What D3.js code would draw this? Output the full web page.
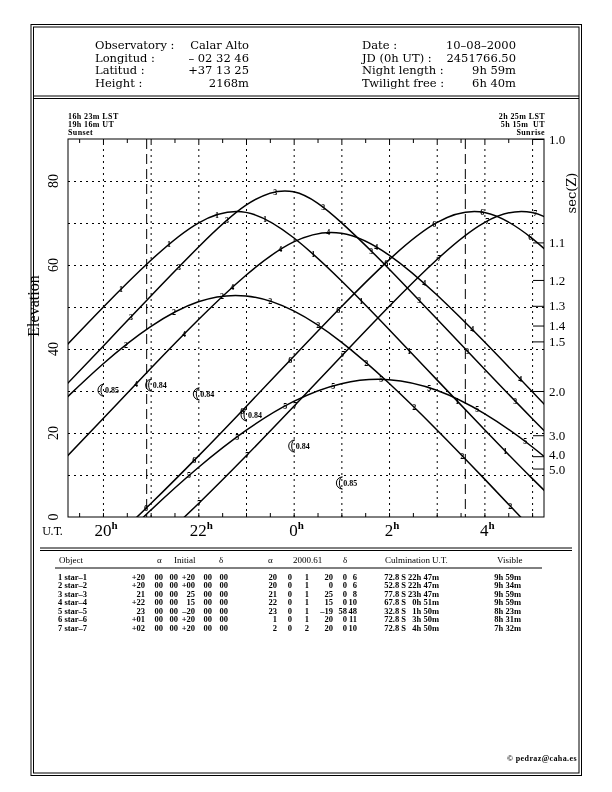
<!DOCTYPE html>
<html>
<head>
<meta charset="utf-8">
<script src="https://cdn.jsdelivr.net/npm/d3@7"></script>
<style>
  body { margin: 0; background: #fff; }
  svg { display: block; background: #fff; will-change: transform; }
  text { fill: #000; }
  .hdr { font-family: "DejaVu Serif"; font-size: 11.5px; }
  .small { font-family: "Liberation Serif"; font-weight: bold; font-size: 8px; letter-spacing: 0.4px; }
  .num { font-family: "Liberation Serif"; font-size: 14px; }
  .tbl { font-family: "Liberation Serif"; font-weight: bold; font-size: 8.5px; }
  .tblh { font-family: "Liberation Serif"; font-size: 9px; }
</style>
</head>
<body>
<div id="chart"></div>
<script>
// header block
var obsLabels = ["Observatory :", "Longitud :", "Latitud :", "Height :"];
var obsValues = ["Calar Alto", "– 02 32 46", "+37 13 25", "2168m"];
var nightLabels = ["Date :", "JD (0h UT) :", "Night length :", "Twilight free :"];
var nightValues = ["10–08–2000", "2451766.50", "9h 59m", "6h 40m"];

var sunsetText = ["16h 23m LST", "19h 16m UT", "Sunset"];
var sunriseText = ["2h 25m LST", "5h 15m  UT", "Sunrise"];

// time axis (UT hours, after midnight as 24+)
var utRange = [19 + 16/60, 29 + 15/60];
var twilight = [20 + 55/60, 27 + 36/60];
var hourLabels = [20, 22, 24, 26, 28];
var hourText = ["20", "22", "0", "2", "4"];
var elevLabels = [0, 20, 40, 60, 80];
var secValues = [1.0, 1.1, 1.2, 1.3, 1.4, 1.5, 2.0, 3.0, 4.0, 5.0];
var secText = ["1.0", "1.1", "1.2", "1.3", "1.4", "1.5", "2.0", "3.0", "4.0", "5.0"];

// elevations of each object, one value per UT hour
var hoursUT = [19, 20, 21, 22, 23, 24, 25, 26, 27, 28, 29, 30];
var star1 = [38.05, 49.89, 61.06, 69.99, 72.53, 66.48, 56.24, 44.64, 32.71, 20.81, 9.19, -1.86];
var star2 = [25.83, 36.42, 45.32, 51.24, 52.64, 49.07, 41.64, 31.84, 20.79, 9.08, -2.88, -14.76];
var star3 = [28.74, 40.62, 52.57, 64.22, 74.24, 77.42, 70.10, 59.06, 47.18, 35.23, 23.46, 12.10];
var star4 = [11.50, 23.40, 35.35, 46.96, 57.56, 65.51, 67.57, 62.37, 52.91, 41.71, 29.89, 17.93];
var star5 = [-21.11, -9.49, 1.59, 11.78, 20.62, 27.52, 31.74, 32.68, 30.17, 24.61, 16.72, 7.19];
var star6 = [-16.97, -7.48, 3.14, 14.49, 26.27, 38.23, 50.06, 61.22, 70.07, 72.50, 66.35, 56.06];
var star7 = [-24.79, -16.95, -7.45, 3.17, 14.52, 26.30, 38.26, 50.10, 61.24, 70.10, 72.49, 66.30];
var stars = [star1, star2, star3, star4, star5, star6, star7];

// moon
var moonUT = [20, 21, 22, 23, 24, 25];
var moonElev = [30.2, 31.4, 29.3, 24.3, 16.9, 8.1];
var moonFrac = ["0.85", "0.84", "0.84", "0.84", "0.84", "0.85"];

// table
var objNames = ["1 star–1", "2 star–2", "3 star–3", "4 star–4", "5 star–5", "6 star–6", "7 star–7"];
var raInit = ["+20 00 00", "+20 00 00", "21 00 00", "+22 00 00", "23 00 00", "+01 00 00", "+02 00 00"];
var decInit = ["+20 00 00", "+00 00 00", "25 00 00", "15 00 00", "–20 00 00", "+20 00 00", "+20 00 00"];
var raNow = ["20 0 1", "20 0 1", "21 0 1", "22 0 1", "23 0 1", "1 0 1", "2 0 2"];
var decNow = ["20 0 6", "0 0 6", "25 0 8", "15 0 10", "–19 58 48", "20 0 11", "20 0 10"];
var culmAlt = ["72.8 S", "52.8 S", "77.8 S", "67.8 S", "32.8 S", "72.8 S", "72.8 S"];
var culmUT = ["22h 47m", "22h 47m", "23h 47m", "0h 51m", "1h 50m", "3h 50m", "4h 50m"];
var visible = ["9h 59m", "9h 34m", "9h 59m", "9h 59m", "8h 23m", "8h 31m", "7h 32m"];

var svg = d3.select("#chart").append("svg")
    .attr("width", 612)
    .attr("height", 792);

// page frame
svg.append("rect").attr("x", 31).attr("y", 24.5).attr("width", 550.5).attr("height", 751)
    .attr("fill", "none").attr("stroke", "#000");
svg.append("rect").attr("x", 33.5).attr("y", 27).attr("width", 545.5).attr("height", 746)
    .attr("fill", "none").attr("stroke", "#000");
[96, 98.5].forEach(function(yy) {
  svg.append("line").attr("x1", 33.5).attr("x2", 579).attr("y1", yy).attr("y2", yy).attr("stroke", "#000");
});

var rowY = [49, 61.5, 74, 86.5];
obsLabels.forEach(function(t, i) {
  svg.append("text").attr("class", "hdr").attr("x", 95).attr("y", rowY[i]).text(t);
  svg.append("text").attr("class", "hdr").attr("x", 249).attr("y", rowY[i]).attr("text-anchor", "end").text(obsValues[i]);
  svg.append("text").attr("class", "hdr").attr("x", 362).attr("y", rowY[i]).text(nightLabels[i]);
  svg.append("text").attr("class", "hdr").attr("x", 516).attr("y", rowY[i]).attr("text-anchor", "end").text(nightValues[i]);
});

// plot
var plot = {left: 68, top: 139, right: 544, bottom: 517};
var x = d3.scaleLinear().domain(utRange).range([plot.left, plot.right]);
var y = d3.scaleLinear().domain([0, 90]).range([plot.bottom, plot.top]);

svg.append("clipPath").attr("id", "clip")
  .append("rect").attr("x", plot.left).attr("y", plot.top)
  .attr("width", plot.right - plot.left).attr("height", plot.bottom - plot.top);

// dotted grid
var gx = svg.append("g").attr("transform", "translate(0," + plot.bottom + ")")
    .call(d3.axisBottom(x).tickValues(d3.range(20, 30)).tickSize(-(plot.bottom - plot.top)).tickFormat(""));
var gy = svg.append("g").attr("transform", "translate(" + plot.left + ",0)")
    .call(d3.axisLeft(y).tickValues(d3.range(10, 90, 10)).tickSize(-(plot.right - plot.left)).tickFormat(""));
[gx, gy].forEach(function(g) {
  g.select(".domain").remove();
  g.selectAll("line").attr("stroke", "#000").attr("stroke-dasharray", "2,4");
});

// half hour ticks top and bottom
var halfHours = d3.range(19.5, 29.25, 0.5);
var tb = svg.append("g").attr("transform", "translate(0," + plot.bottom + ")")
    .call(d3.axisBottom(x).tickValues(halfHours).tickSize(-4).tickFormat(""));
var tt = svg.append("g").attr("transform", "translate(0," + plot.top + ")")
    .call(d3.axisTop(x).tickValues(halfHours).tickSize(-4).tickFormat(""));
[tb, tt].forEach(function(g) {
  g.select(".domain").remove();
  g.selectAll("line").attr("stroke", "#000");
});

// twilight limits
twilight.forEach(function(t) {
  svg.append("line").attr("x1", x(t)).attr("x2", x(t)).attr("y1", plot.top).attr("y2", plot.bottom)
    .attr("stroke", "#000").attr("stroke-dasharray", "10,5");
});

// sec(Z) axis
function secToElev(s) { return 90 - Math.acos(1 / s) * 180 / Math.PI; }
var gs = svg.append("g").attr("transform", "translate(" + plot.right + ",0)")
    .call(d3.axisRight(y).tickValues(secValues.map(secToElev)).tickSize(-11).tickPadding(5)
      .tickFormat(function(d, i) { return secText[i]; }));
gs.select(".domain").remove();
gs.selectAll("line").attr("stroke", "#000");
gs.selectAll("text").attr("font-family", "Liberation Serif").attr("font-size", 13).attr("fill", "#000")
  .attr("dy", function(d, i) { return secText[i] === "4.0" ? "0.2em" : secText[i] === "5.0" ? "0.4em" : "0.32em"; });

svg.append("rect").attr("x", plot.left).attr("y", plot.top)
    .attr("width", plot.right - plot.left).attr("height", plot.bottom - plot.top)
    .attr("fill", "none").attr("stroke", "#000");

// left labels
elevLabels.forEach(function(v) {
  svg.append("text").attr("class", "num").attr("text-anchor", "middle")
    .attr("transform", "translate(58," + y(v) + ") rotate(-90)").text(v);
});
svg.append("text").attr("text-anchor", "middle").attr("font-family", "Liberation Serif").attr("font-size", 16)
    .attr("transform", "translate(39,306) rotate(-90)").text("Elevation");
svg.append("text").attr("text-anchor", "middle").attr("font-family", "DejaVu Serif").attr("font-size", 13)
    .attr("transform", "translate(576,193) rotate(-90)").text("sec(Z)");

// bottom labels
svg.append("text").attr("font-family", "DejaVu Serif").attr("font-size", 11).attr("x", 42).attr("y", 535).text("U.T.");
hourLabels.forEach(function(h, i) {
  var t = svg.append("text").attr("font-family", "Liberation Serif").attr("font-size", 17)
    .attr("x", x(h) + 3).attr("y", 536).attr("text-anchor", "middle");
  t.append("tspan").text(hourText[i]);
  t.append("tspan").attr("font-size", 11).attr("font-weight", "bold").attr("dy", -7).text("h");
});

// sunset / sunrise notes
sunsetText.forEach(function(s, i) {
  svg.append("text").attr("class", "small").attr("x", 68).attr("y", 119 + 8 * i).attr("xml:space", "preserve").text(s);
});
sunriseText.forEach(function(s, i) {
  svg.append("text").attr("class", "small").attr("x", 545).attr("y", 119 + 8 * i)
    .attr("text-anchor", "end").attr("xml:space", "preserve").text(s);
});

// object tracks
var line = d3.line()
    .x(function(d) { return x(d[0]); })
    .y(function(d) { return y(d[1]); })
    .curve(d3.curveNatural);

var tracks = svg.append("g").attr("clip-path", "url(#clip)");

function yOnPath(node, len, px) {
  var lo = 0, hi = len, p;
  for (var k = 0; k < 30; k++) {
    var mid = (lo + hi) / 2;
    p = node.getPointAtLength(mid);
    if (p.x < px) lo = mid; else hi = mid;
  }
  return p.y;
}

var labelT0 = 20.38, labelShift = 0.105, labelStep = 1.007;
stars.forEach(function(s, i) {
  var p = tracks.append("path")
      .datum(d3.zip(hoursUT, s))
      .attr("d", line)
      .attr("fill", "none")
      .attr("stroke", "#000")
      .attr("stroke-width", 1.5);
  var node = p.node(), len = node.getTotalLength();
  for (var t = labelT0 + labelShift * i; t < utRange[1]; t += labelStep) {
    var px = x(t), py = yOnPath(node, len, px);
    if (py > plot.bottom - 2 || px > plot.right - 3) continue;
    tracks.append("text")
      .attr("x", px).attr("y", py + 3)
      .attr("text-anchor", "middle")
      .attr("font-family", "Liberation Serif").attr("font-weight", "bold").attr("font-size", 8)
      .text(i + 1);
  }
});

// moon positions
moonUT.forEach(function(t, i) {
  var cx = x(t), cy = y(moonElev[i]);
  var bx = cx + 1;
  svg.append("path")
    .attr("d", "M" + bx + "," + (cy - 6) + "A6,6 0 0 0 " + bx + "," + (cy + 6) + "A3,6 0 0 1 " + bx + "," + (cy - 6) + "Z")
    .attr("fill", "none").attr("stroke", "#000");
  svg.append("text").attr("x", cx + 2).attr("y", cy + 3)
    .attr("font-family", "Liberation Serif").attr("font-weight", "bold").attr("font-size", 8)
    .text(moonFrac[i]);
});

// table
[548, 550.5].forEach(function(yy) {
  svg.append("line").attr("x1", 40).attr("x2", 572).attr("y1", yy).attr("y2", yy).attr("stroke", "#000");
});
svg.append("line").attr("x1", 55).attr("x2", 542).attr("y1", 568).attr("y2", 568).attr("stroke", "#000");

var heads = [["Object", 59], ["α", 157], ["Initial", 174], ["δ", 219], ["α", 268], ["2000.61", 293],
             ["δ", 343], ["Culmination", 385], ["U.T.", 432], ["Visible", 497]];
heads.forEach(function(h) {
  svg.append("text").attr("class", "tblh").attr("x", h[1]).attr("y", 563).text(h[0]);
});

function cell(txt, xx, yy, anchor, size) {
  svg.append("text").attr("class", "tbl").attr("x", xx).attr("y", yy)
    .attr("font-size", size || null)
    .attr("text-anchor", anchor || "end").text(txt);
}
var raInitParts = [145, 163, 178], decInitParts = [195, 212, 228];
var raParts = [277, 292, 309], decParts = [333, 347, 357];
objNames.forEach(function(name, i) {
  var yy = 579.5 + 8.5 * i;
  cell(name, 58, yy, "start", 9);
  raInit[i].split(" ").forEach(function(p, j) { cell(p, raInitParts[j], yy, "end", 9); });
  decInit[i].split(" ").forEach(function(p, j) { cell(p, decInitParts[j], yy, "end", 9); });
  raNow[i].split(" ").forEach(function(p, j) { cell(p, raParts[j], yy); });
  decNow[i].split(" ").forEach(function(p, j) { cell(p, decParts[j], yy); });
  cell(culmAlt[i], 406, yy, "end", 8);
  cell(culmUT[i], 439, yy, "end", 7.5);
  cell(visible[i], 521, yy, "end", 8);
});

svg.append("text").attr("class", "small").attr("font-size", 9).attr("x", 577).attr("y", 761)
    .attr("text-anchor", "end").text("© pedraz@caha.es");
</script>
</body>
</html>
